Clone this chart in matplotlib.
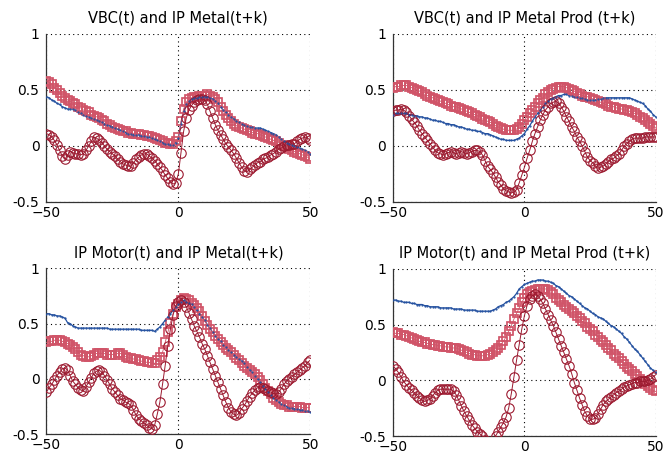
import numpy as np
import matplotlib
matplotlib.use("Agg")
import matplotlib.pyplot as plt

plt.rcParams['font.family'] = ['DejaVu Sans']

lags = np.arange(-50, 51)

titles = ["VBC(t) and IP Metal(t+k)", "VBC(t) and IP Metal Prod (t+k)",
          "IP Motor(t) and IP Metal(t+k)", "IP Motor(t) and IP Metal Prod (t+k)"]

# --- VBC(t) and IP Metal(t+k)
blue1 = [0.44, 0.43, 0.41, 0.40, 0.38, 0.37, 0.35, 0.34, 0.33, 0.33,
         0.33, 0.32, 0.30, 0.29, 0.28, 0.27, 0.26, 0.25, 0.24, 0.23,
         0.22, 0.21, 0.20, 0.19, 0.18, 0.17, 0.16, 0.15, 0.14, 0.13,
         0.12, 0.11, 0.11, 0.10, 0.10, 0.10, 0.09, 0.09, 0.08, 0.08,
         0.07, 0.06, 0.05, 0.04, 0.03, 0.02, 0.02, 0.01, 0.01, 0.03,
         0.07, 0.20, 0.31, 0.37, 0.40, 0.42, 0.43, 0.43, 0.44, 0.44,
         0.44, 0.44, 0.43, 0.42, 0.40, 0.38, 0.35, 0.32, 0.30, 0.28,
         0.26, 0.24, 0.22, 0.21, 0.20, 0.19, 0.18, 0.17, 0.17, 0.16,
         0.16, 0.16, 0.15, 0.14, 0.13, 0.12, 0.11, 0.10, 0.08, 0.06,
         0.04, 0.03, 0.02, 0.01, 0.00, -0.01, -0.02, -0.03, -0.04, -0.05, -0.07]
sq1 = [0.58, 0.57, 0.55, 0.52, 0.50, 0.47, 0.45, 0.43, 0.41, 0.40,
       0.38, 0.37, 0.35, 0.34, 0.32, 0.31, 0.30, 0.28, 0.27, 0.26,
       0.25, 0.23, 0.22, 0.20, 0.19, 0.17, 0.16, 0.15, 0.14, 0.13,
       0.13, 0.12, 0.12, 0.11, 0.11, 0.11, 0.10, 0.10, 0.09, 0.09,
       0.08, 0.07, 0.06, 0.05, 0.04, 0.03, 0.03, 0.02, 0.02, 0.04,
       0.08, 0.22, 0.33, 0.39, 0.42, 0.43, 0.44, 0.44, 0.45, 0.45,
       0.45, 0.46, 0.45, 0.44, 0.42, 0.39, 0.35, 0.31, 0.28, 0.25,
       0.22, 0.20, 0.18, 0.17, 0.16, 0.15, 0.14, 0.13, 0.12, 0.11,
       0.11, 0.10, 0.09, 0.08, 0.07, 0.06, 0.05, 0.04, 0.03, 0.01,
       0.00, -0.01, -0.03, -0.04, -0.05, -0.06, -0.07, -0.08, -0.09, -0.10, -0.12]
circ1 = [0.11, 0.10, 0.08, 0.05, 0.01, -0.04, -0.09, -0.12, -0.08, -0.05,
         -0.06, -0.07, -0.07, -0.08, -0.07, -0.04, 0.00, 0.04, 0.08, 0.07,
         0.05, 0.03, 0.00, -0.03, -0.05, -0.07, -0.09, -0.12, -0.14, -0.16,
         -0.17, -0.18, -0.18, -0.15, -0.12, -0.10, -0.08, -0.07, -0.07, -0.09,
         -0.11, -0.13, -0.16, -0.19, -0.22, -0.26, -0.29, -0.32, -0.34, -0.33,
         -0.25, -0.06, 0.13, 0.25, 0.32, 0.36, 0.39, 0.41, 0.42, 0.42,
         0.41, 0.37, 0.31, 0.25, 0.19, 0.14, 0.10, 0.06, 0.02, -0.01,
         -0.04, -0.07, -0.11, -0.15, -0.19, -0.22, -0.23, -0.21, -0.19, -0.17,
         -0.15, -0.14, -0.12, -0.11, -0.10, -0.08, -0.07, -0.05, -0.03, -0.02,
         0.00, 0.01, 0.01, 0.02, 0.02, 0.04, 0.06, 0.07, 0.08, 0.07, 0.05]

# --- VBC(t) and IP Metal Prod (t+k)
blue2 = [0.28, 0.29, 0.29, 0.29, 0.29, 0.29, 0.28, 0.28, 0.27, 0.27,
         0.26, 0.26, 0.25, 0.25, 0.24, 0.23, 0.23, 0.22, 0.22, 0.21,
         0.20, 0.20, 0.19, 0.19, 0.18, 0.17, 0.17, 0.16, 0.15, 0.15,
         0.14, 0.14, 0.13, 0.13, 0.12, 0.11, 0.11, 0.10, 0.09, 0.08,
         0.07, 0.06, 0.06, 0.05, 0.05, 0.05, 0.05, 0.06, 0.07, 0.09,
         0.11, 0.15, 0.18, 0.22, 0.26, 0.29, 0.32, 0.35, 0.38, 0.40,
         0.42, 0.43, 0.44, 0.45, 0.45, 0.46, 0.46, 0.45, 0.45, 0.44,
         0.44, 0.43, 0.43, 0.42, 0.41, 0.41, 0.41, 0.41, 0.42, 0.42,
         0.43, 0.43, 0.43, 0.43, 0.43, 0.43, 0.43, 0.43, 0.43, 0.43,
         0.43, 0.42, 0.41, 0.40, 0.39, 0.38, 0.36, 0.33, 0.31, 0.28, 0.26]
sq2 = [0.52, 0.53, 0.53, 0.54, 0.54, 0.54, 0.53, 0.52, 0.51, 0.50,
       0.49, 0.48, 0.46, 0.45, 0.44, 0.43, 0.42, 0.41, 0.40, 0.39,
       0.38, 0.37, 0.36, 0.35, 0.35, 0.34, 0.33, 0.32, 0.31, 0.30,
       0.29, 0.28, 0.27, 0.26, 0.24, 0.23, 0.22, 0.21, 0.20, 0.18,
       0.17, 0.16, 0.15, 0.14, 0.14, 0.14, 0.14, 0.15, 0.17, 0.20,
       0.23, 0.26, 0.29, 0.32, 0.35, 0.38, 0.41, 0.43, 0.46, 0.48,
       0.50, 0.51, 0.52, 0.53, 0.53, 0.53, 0.52, 0.51, 0.50, 0.49,
       0.47, 0.46, 0.45, 0.44, 0.44, 0.43, 0.42, 0.41, 0.40, 0.39,
       0.38, 0.37, 0.36, 0.35, 0.35, 0.34, 0.33, 0.33, 0.32, 0.32,
       0.31, 0.30, 0.29, 0.28, 0.26, 0.25, 0.23, 0.21, 0.20, 0.18, 0.16]
circ2 = [0.31, 0.32, 0.32, 0.33, 0.32, 0.30, 0.27, 0.24, 0.21, 0.18,
         0.14, 0.11, 0.08, 0.05, 0.02, -0.01, -0.04, -0.06, -0.07, -0.08,
         -0.07, -0.06, -0.05, -0.06, -0.07, -0.06, -0.05, -0.06, -0.07, -0.06,
         -0.05, -0.04, -0.04, -0.05, -0.08, -0.13, -0.18, -0.21, -0.24, -0.28,
         -0.32, -0.35, -0.38, -0.40, -0.41, -0.42, -0.41, -0.39, -0.33, -0.26,
         -0.19, -0.11, -0.04, 0.04, 0.11, 0.17, 0.23, 0.28, 0.32, 0.35,
         0.38, 0.39, 0.40, 0.38, 0.35, 0.31, 0.26, 0.22, 0.17, 0.13,
         0.08, 0.04, 0.00, -0.05, -0.10, -0.13, -0.15, -0.18, -0.20, -0.19,
         -0.18, -0.16, -0.14, -0.12, -0.11, -0.09, -0.07, -0.04, 0.00, 0.02,
         0.04, 0.06, 0.07, 0.07, 0.07, 0.07, 0.08, 0.08, 0.08, 0.08, 0.08]

# --- IP Motor(t) and IP Metal(t+k)
blue3 = [0.59, 0.59, 0.58, 0.58, 0.57, 0.57, 0.56, 0.55, 0.51, 0.50,
         0.48, 0.47, 0.46, 0.46, 0.46, 0.46, 0.46, 0.46, 0.46, 0.46,
         0.46, 0.46, 0.46, 0.46, 0.45, 0.45, 0.45, 0.45, 0.45, 0.45,
         0.45, 0.45, 0.45, 0.45, 0.45, 0.45, 0.44, 0.44, 0.44, 0.44,
         0.44, 0.43, 0.45, 0.47, 0.50, 0.53, 0.56, 0.59, 0.62, 0.65,
         0.68, 0.70, 0.71, 0.70, 0.69, 0.68, 0.65, 0.62, 0.59, 0.56,
         0.53, 0.49, 0.46, 0.42, 0.39, 0.36, 0.34, 0.31, 0.29, 0.26,
         0.24, 0.22, 0.20, 0.18, 0.16, 0.14, 0.11, 0.08, 0.06, 0.03,
         0.00, -0.03, -0.06, -0.09, -0.12, -0.15, -0.17, -0.19, -0.21, -0.23,
         -0.24, -0.25, -0.26, -0.26, -0.27, -0.27, -0.28, -0.28, -0.29, -0.29, -0.30]
sq3 = [0.33, 0.34, 0.34, 0.35, 0.35, 0.35, 0.34, 0.33, 0.32, 0.31,
       0.29, 0.27, 0.24, 0.22, 0.21, 0.20, 0.20, 0.21, 0.22, 0.23,
       0.23, 0.23, 0.23, 0.22, 0.22, 0.22, 0.22, 0.23, 0.23, 0.22,
       0.20, 0.19, 0.19, 0.18, 0.18, 0.17, 0.16, 0.16, 0.15, 0.15,
       0.14, 0.14, 0.17, 0.20, 0.24, 0.33, 0.42, 0.51, 0.59, 0.65,
       0.68, 0.71, 0.73, 0.72, 0.71, 0.69, 0.67, 0.64, 0.61, 0.57,
       0.52, 0.49, 0.45, 0.42, 0.39, 0.36, 0.33, 0.31, 0.28, 0.26,
       0.24, 0.22, 0.19, 0.17, 0.14, 0.12, 0.10, 0.08, 0.06, 0.04,
       0.02, -0.01, -0.05, -0.08, -0.11, -0.14, -0.17, -0.19, -0.21, -0.23,
       -0.24, -0.24, -0.25, -0.25, -0.25, -0.25, -0.25, -0.26, -0.26, -0.26, -0.26]
circ3 = [-0.12, -0.08, -0.05, -0.01, 0.03, 0.06, 0.09, 0.10, 0.08, 0.03,
         -0.02, -0.05, -0.08, -0.10, -0.11, -0.07, -0.03, 0.01, 0.05, 0.07,
         0.08, 0.06, 0.03, -0.01, -0.05, -0.09, -0.12, -0.15, -0.18, -0.19,
         -0.21, -0.22, -0.24, -0.28, -0.33, -0.36, -0.38, -0.40, -0.42, -0.44,
         -0.45, -0.42, -0.32, -0.21, -0.05, 0.12, 0.30, 0.45, 0.58, 0.66,
         0.70, 0.71, 0.70, 0.65, 0.60, 0.54, 0.48, 0.43, 0.38, 0.32,
         0.27, 0.21, 0.15, 0.09, 0.03, -0.03, -0.09, -0.15, -0.21, -0.26,
         -0.30, -0.32, -0.33, -0.31, -0.27, -0.24, -0.20, -0.16, -0.13, -0.10,
         -0.08, -0.07, -0.08, -0.09, -0.11, -0.12, -0.13, -0.14, -0.12, -0.09,
         -0.05, -0.02, 0.00, 0.02, 0.04, 0.06, 0.08, 0.10, 0.12, 0.15, 0.17]

# --- IP Motor(t) and IP Metal Prod (t+k)
blue4 = [0.72, 0.72, 0.71, 0.71, 0.70, 0.70, 0.70, 0.69, 0.69, 0.68,
         0.68, 0.68, 0.67, 0.67, 0.66, 0.66, 0.66, 0.66, 0.65, 0.65,
         0.65, 0.65, 0.65, 0.64, 0.64, 0.64, 0.64, 0.63, 0.63, 0.63,
         0.63, 0.63, 0.62, 0.62, 0.62, 0.62, 0.62, 0.62, 0.63, 0.64,
         0.66, 0.67, 0.68, 0.70, 0.71, 0.73, 0.75, 0.78, 0.82, 0.84,
         0.86, 0.87, 0.88, 0.89, 0.89, 0.90, 0.90, 0.90, 0.89, 0.89,
         0.88, 0.87, 0.85, 0.84, 0.82, 0.80, 0.78, 0.76, 0.75, 0.73,
         0.71, 0.69, 0.67, 0.65, 0.64, 0.62, 0.60, 0.59, 0.57, 0.56,
         0.55, 0.53, 0.51, 0.49, 0.48, 0.46, 0.44, 0.42, 0.39, 0.37,
         0.34, 0.31, 0.28, 0.26, 0.23, 0.20, 0.17, 0.14, 0.11, 0.09, 0.07]
sq4 = [0.43, 0.42, 0.42, 0.41, 0.41, 0.40, 0.39, 0.38, 0.37, 0.36,
       0.35, 0.34, 0.34, 0.33, 0.33, 0.32, 0.32, 0.31, 0.31, 0.30,
       0.30, 0.30, 0.29, 0.29, 0.29, 0.28, 0.27, 0.26, 0.25, 0.24,
       0.23, 0.23, 0.22, 0.22, 0.22, 0.22, 0.23, 0.24, 0.25, 0.27,
       0.29, 0.32, 0.35, 0.39, 0.44, 0.49, 0.55, 0.60, 0.65, 0.70,
       0.74, 0.77, 0.79, 0.80, 0.81, 0.82, 0.82, 0.82, 0.82, 0.81,
       0.79, 0.77, 0.74, 0.72, 0.70, 0.68, 0.66, 0.64, 0.62, 0.60,
       0.58, 0.56, 0.53, 0.51, 0.48, 0.46, 0.44, 0.41, 0.39, 0.36,
       0.34, 0.32, 0.29, 0.27, 0.24, 0.22, 0.20, 0.17, 0.15, 0.12,
       0.10, 0.08, 0.06, 0.04, 0.01, -0.01, -0.03, -0.05, -0.07, -0.09, -0.10]
circ4 = [0.13, 0.10, 0.07, 0.03, -0.01, -0.04, -0.07, -0.09, -0.11, -0.14,
         -0.16, -0.18, -0.19, -0.18, -0.17, -0.14, -0.11, -0.09, -0.08, -0.08,
         -0.08, -0.08, -0.08, -0.10, -0.13, -0.18, -0.23, -0.28, -0.32, -0.36,
         -0.40, -0.43, -0.46, -0.48, -0.50, -0.54, -0.58, -0.60, -0.58, -0.50,
         -0.46, -0.42, -0.38, -0.33, -0.25, -0.12, 0.03, 0.18, 0.32, 0.46,
         0.58, 0.67, 0.73, 0.76, 0.77, 0.76, 0.73, 0.69, 0.64, 0.59,
         0.54, 0.49, 0.43, 0.37, 0.31, 0.25, 0.19, 0.13, 0.06, -0.02,
         -0.09, -0.16, -0.22, -0.28, -0.32, -0.35, -0.35, -0.34, -0.30, -0.26,
         -0.22, -0.19, -0.17, -0.15, -0.13, -0.11, -0.10, -0.08, -0.06, -0.05,
         -0.04, -0.03, -0.02, -0.02, -0.01, -0.01, -0.01, 0.00, 0.01, 0.03, 0.05]

blues = [blue1, blue2, blue3, blue4]
squares = [sq1, sq2, sq3, sq4]
circles = [circ1, circ2, circ3, circ4]

BLUE = '#2451a0'
SQ_RED = '#d05468'
CI_RED = '#9c1a30'

fig = plt.figure(figsize=(6.63, 4.58), dpi=100)
# axes boxes in figure fractions (left, bottom, width, height)
boxes = [(0.070, 0.559, 0.398, 0.367), (0.593, 0.559, 0.396, 0.367),
         (0.070, 0.052, 0.398, 0.362), (0.593, 0.048, 0.396, 0.365)]

for k in range(4):
    ax = fig.add_axes(boxes[k])
    ax.plot(lags, blues[k], color=BLUE, lw=0.9, zorder=2)
    ax.plot(lags, squares[k], color=SQ_RED, lw=0.6, marker='s', ms=5.3,
            mfc='none', mec=SQ_RED, mew=1.25, zorder=3)
    ax.plot(lags, circles[k], color=CI_RED, lw=0.7, marker='o', ms=6.8,
            mfc='none', mec=CI_RED, mew=0.8, zorder=4)
    ax.plot(lags, blues[k], color=BLUE, lw=0.0, marker='.', ms=1.2, zorder=5)

    ax.set_xlim(-50, 50)
    ax.set_ylim(-0.5, 1)
    ax.set_xticks([-50, 0, 50])
    ax.set_yticks([-0.5, 0, 0.5, 1])
    ax.set_yticklabels(['-0.5', '0', '0.5', '1'])
    ax.grid(True, color='black', linestyle=(0, (1, 3)), linewidth=0.8)
    ax.spines['top'].set_visible(False)
    ax.spines['right'].set_visible(False)
    for s in ['left', 'bottom']:
        ax.spines[s].set_linewidth(0.9)
        ax.spines[s].set_color('#333333')
    ax.tick_params(direction='in', length=0, labelsize=10)
    ax.tick_params(axis='x', pad=3)
    ax.tick_params(axis='y', pad=5)
    ax.set_title(titles[k], fontsize=10.5, pad=8)

fig.savefig('out.png', dpi=100)
